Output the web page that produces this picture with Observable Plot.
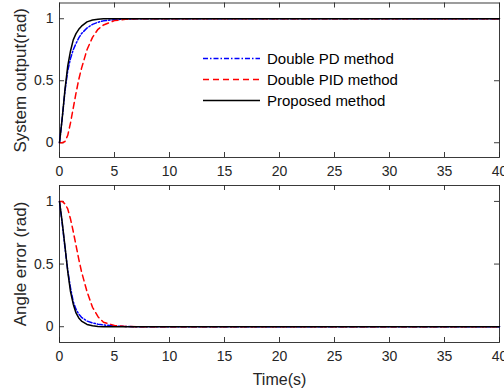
<!DOCTYPE html>
<html><head><meta charset="utf-8">
<script src="https://cdn.jsdelivr.net/npm/d3@7"></script>
<script src="https://cdn.jsdelivr.net/npm/@observablehq/plot@0.6"></script>
<style>
html,body{margin:0;padding:0;background:#fff;}
#wrap{position:relative;width:504px;height:391px;overflow:hidden;font-family:"Liberation Sans",Arial,sans-serif;}
#wrap > svg{position:absolute;left:0;}
#legend{position:absolute;left:203px;top:48px;font-size:15px;color:#000;}
#legend .row{display:flex;align-items:center;height:21px;white-space:nowrap;}
#legend .row svg{width:58px;height:21px;margin-right:6px;}
</style></head><body><div id="wrap"><div id="legend"></div></div>
<script>
// ---- data ----
const time = [0, 0.25, 0.5, 0.75, 1, 1.25, 1.5, 1.75, 2, 2.5, 3, 3.5, 4, 5, 6, 7, 8, 40];
// System output
const outPD       = [0, 0.2, 0.42, 0.58, 0.68, 0.75, 0.8, 0.845, 0.88, 0.925, 0.955, 0.972, 0.983, 0.993, 0.997, 0.999, 1, 1];
const outPID      = [0, 0, 0.01, 0.06, 0.16, 0.28, 0.4, 0.51, 0.6, 0.75, 0.85, 0.915, 0.95, 0.985, 0.995, 0.999, 1, 1];
const outProposed = [0, 0.2, 0.43, 0.62, 0.74, 0.83, 0.88, 0.915, 0.94, 0.975, 0.99, 0.996, 0.999, 1, 1, 1, 1, 1];
// Angle error
const errPD       = [1, 0.82, 0.63, 0.45, 0.31, 0.2, 0.14, 0.1, 0.075, 0.045, 0.03, 0.02, 0.014, 0.006, 0.002, 0, 0, 0];
const errPID      = [1, 1, 0.98, 0.94, 0.86, 0.76, 0.65, 0.54, 0.44, 0.28, 0.155, 0.08, 0.035, 0.01, 0.002, 0, 0, 0];
const errProposed = [1, 0.83, 0.64, 0.44, 0.28, 0.18, 0.11, 0.07, 0.045, 0.018, 0.007, 0.002, 0, 0, 0, 0, 0, 0];

const seriesNames = ["Double PD method", "Double PID method", "Proposed method"];
const seriesColors = ["#0000ff", "#ff0000", "#000000"];
const seriesDash = ["5,2,1.5,2", "6,4", null];
const xTicks = [0, 5, 10, 15, 20, 25, 30, 35, 40];
const yTicks = [0, 0.5, 1];
const topLabel = "System output(rad)";
const bottomLabel = "Angle error (rad)";
const xLabel = "Time(s)";

const axisColor = "#262626";
const W = 504;

function rows(vals) { return time.map((t, i) => ({t, v: vals[i]})); }

function panel({values, yLabel, height, marginTop, marginBottom, yDomain, xTitle}) {
  const mL = 59, mR = 5;
  const innerH = height - marginTop - marginBottom;
  const innerW = W - mL - mR;
  const tick = 5;
  const marks = [
    Plot.frame({stroke: axisColor, strokeWidth: 0.9}),
    Plot.tickX(xTicks, {x: d => d, insetTop: innerH - tick, stroke: axisColor, strokeWidth: 0.9}),
    Plot.tickX(xTicks, {x: d => d, insetBottom: innerH - tick, stroke: axisColor, strokeWidth: 0.9}),
    Plot.tickY(yTicks, {y: d => d, insetRight: innerW - tick, stroke: axisColor, strokeWidth: 0.9}),
    Plot.tickY(yTicks, {y: d => d, insetLeft: innerW - tick, stroke: axisColor, strokeWidth: 0.9}),
    Plot.axisX(xTicks, {tickSize: 0, tickPadding: 9, fontSize: 14, fill: axisColor, label: null, tickFormat: d => String(d)}),
    Plot.axisY(yTicks, {tickSize: 0, tickPadding: 6, fontSize: 14, fill: axisColor, label: null, tickFormat: d => String(d)}),
    Plot.text([yLabel], {text: d => d, frameAnchor: "left", textAnchor: "middle", lineAnchor: "middle", rotate: -90, dx: -39, fontSize: 17, fill: axisColor})
  ];
  values.forEach((vals, i) => {
    marks.push(Plot.line(rows(vals), {x: "t", y: "v", stroke: seriesColors[i], strokeWidth: 1.5,
      strokeDasharray: seriesDash[i] || undefined}));
  });
  if (xTitle) marks.push(Plot.text([xTitle], {text: d => d, frameAnchor: "bottom", textAnchor: "middle", lineAnchor: "middle", dy: 37, fontSize: 16, fill: axisColor}));
  return Plot.plot({
    width: W, height, marginLeft: mL, marginRight: mR, marginTop, marginBottom,
    x: {domain: [0, 40]},
    y: {domain: yDomain},
    style: {fontFamily: '"Liberation Sans", Arial, sans-serif', background: "white", overflow: "visible"},
    marks
  });
}

const wrap = document.getElementById("wrap");
const top1 = panel({values: [outPD, outPID, outProposed], yLabel: topLabel, height: 180, marginTop: 2.5, marginBottom: 23, yDomain: [-0.119, 1.127]});
top1.style.top = "0px";
const bot = panel({values: [errPD, errPID, errProposed], yLabel: bottomLabel, height: 211, marginTop: 5, marginBottom: 49, yDomain: [-0.126, 1.127], xTitle: xLabel});
bot.style.top = "180px";
wrap.insertBefore(bot, wrap.firstChild);
wrap.insertBefore(top1, wrap.firstChild);

// legend
const legend = document.getElementById("legend");
seriesNames.forEach((name, i) => {
  const row = document.createElement("div");
  row.className = "row";
  row.innerHTML = `<svg viewBox="0 0 58 21"><line x1="0" x2="57" y1="10.5" y2="10.5" stroke="${seriesColors[i]}" stroke-width="1.5" ${seriesDash[i] ? `stroke-dasharray="${seriesDash[i]}"` : ""}/></svg><span>${name}</span>`;
  legend.appendChild(row);
});
</script></body></html>
